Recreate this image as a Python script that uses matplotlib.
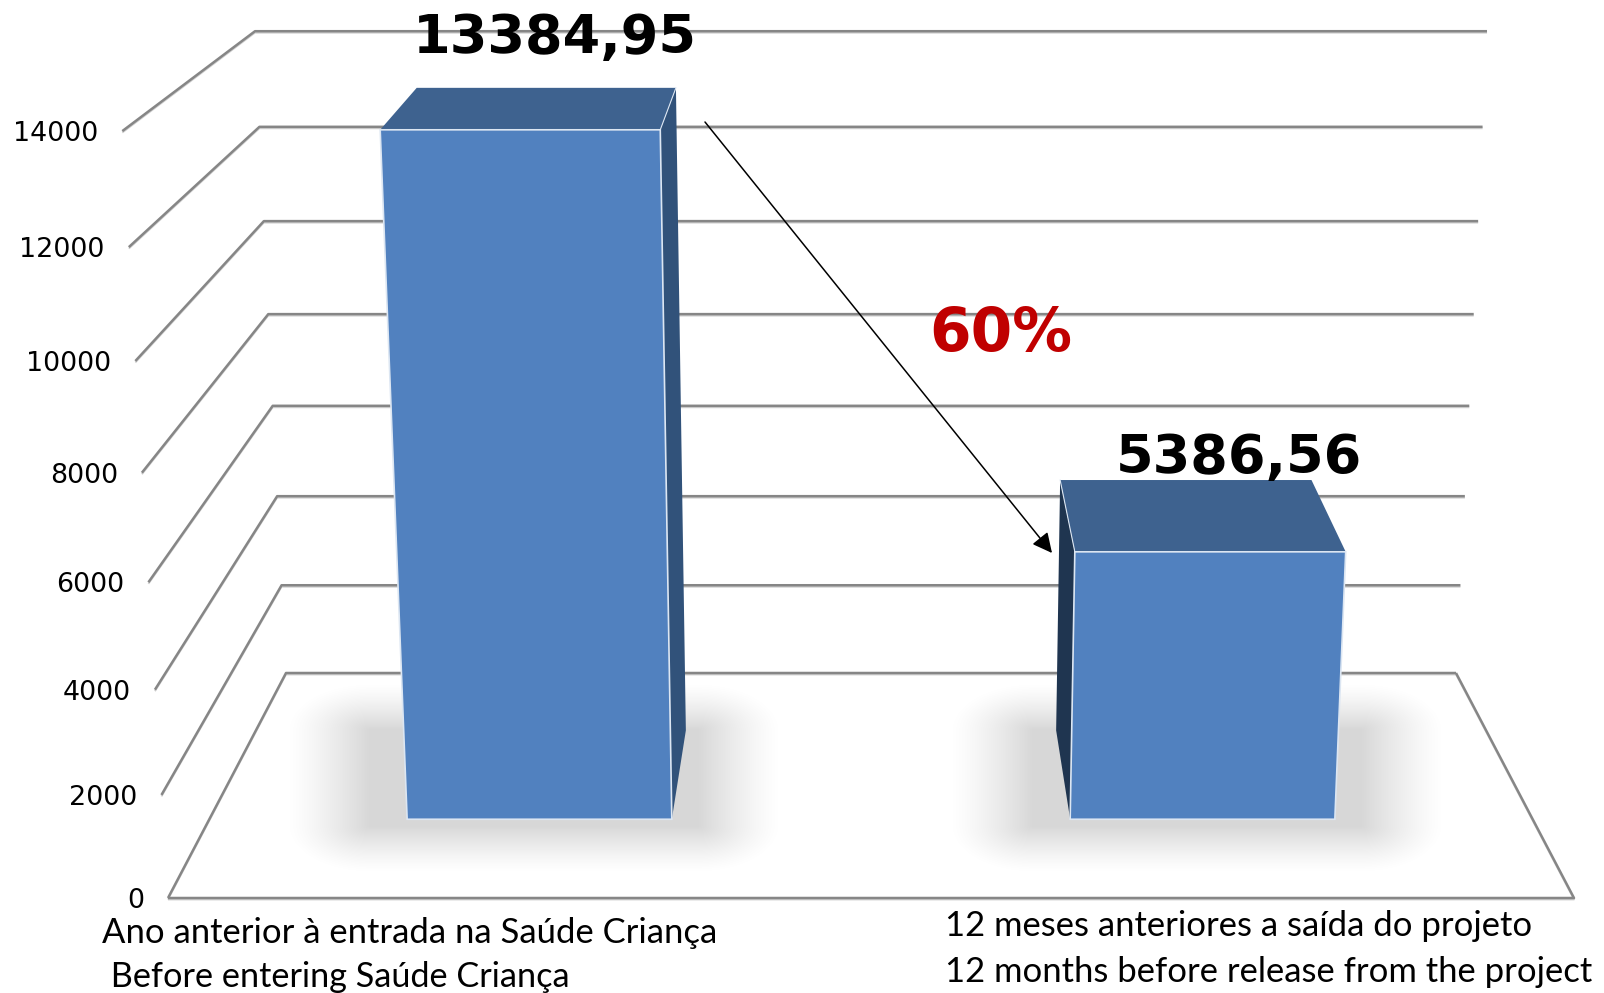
import numpy as np
import matplotlib
matplotlib.use('Agg')
import matplotlib.pyplot as plt
from matplotlib.patches import Polygon

# Data
tick_values = [0, 2000, 4000, 6000, 8000, 10000, 12000, 14000]
bar_values = [13384.95, 5386.56]
cat_labels_pt = ['Ano anterior à entrada na Saúde Criança', '12 meses anteriores a saída do projeto']
cat_labels_en = [' Before entering Saúde Criança', '12 months before release from the project']
drop_label = '60%'

# Layout of the 3D box, in output pixels
CENTER_X = 871
FLOOR_FRONT_Y = 898
FLOOR_DEPTH = 225
BAR_SPANS = [(-0.701, -0.301), (0.301, 0.701)]
BAR_FRONT = 0.35
BAR_BACK = 0.745

GRID = '#868686'
GRID_SHADOW = '#cfcfcf'
FRONT = '#5181BF'
TOP = '#3E628F'
SIDE_LEFT_BAR = '#31527A'
SIDE_RIGHT_BAR = '#1F3550'
EDGE = '#DCE6F2'


def project(x, value, depth):
    # x runs -1..1 across the box, depth runs 0 (front) to 1 (back wall)
    half_width = 703 - 118 * depth
    spread = 1 + (value / 14000) * (0.065 - 0.012 * depth)
    u = value / 2000
    height = (102 - 14.9 * depth) * u + (1.08 - 0.425 * depth) * u ** 2
    return CENTER_X + x * half_width * spread, FLOOR_FRONT_Y - FLOOR_DEPTH * depth - height


def grid_line(ax, points):
    xs, ys = zip(*points)
    ax.plot(xs, np.array(ys) + 1.5, color=GRID_SHADOW, lw=1.3, zorder=1, solid_capstyle='butt')
    ax.plot(xs, ys, color=GRID, lw=1.8, zorder=2, solid_capstyle='butt')


def soft_shadow(ax, x0, x1, y0, y1, fade_x, fade_y):
    xs = np.arange(x0, x1) + 0.5
    ys = np.arange(y0, y1) + 0.5
    dx = np.maximum(np.maximum(x0 + fade_x - xs, xs - (x1 - fade_x)), 0) / fade_x
    dy = np.maximum(np.maximum(y0 + fade_y - ys, ys - (y1 - fade_y)), 0) / fade_y
    r = np.clip(1 - np.hypot(*np.meshgrid(dx, dy)), 0, 1)
    rgba = np.zeros((len(ys), len(xs), 4))
    rgba[..., 3] = 0.16 * r ** 1.3
    ax.imshow(rgba, extent=(x0, x1, y1, y0), aspect='auto', zorder=3, interpolation='bilinear')


fig = plt.figure(figsize=(16.04, 9.93), dpi=100)
ax = fig.add_axes([0, 0, 1, 1])

# Walls and floor
for v in tick_values:
    front_x, front_y = project(-1, v, 0)
    back_l = project(-1, v, 1)
    back_r = project(1, v, 1)
    grid_line(ax, [(front_x, front_y), back_l, back_r])
    ax.text(front_x - 24, front_y + 3, str(v), ha='right', va='center', fontsize=19.4, color='black')
grid_line(ax, [project(-1, 0, 0), project(1, 0, 0), project(1, 0, 1)])

# Bars
for i, (value, span) in enumerate(zip(bar_values, BAR_SPANS)):
    xa, xb = span
    # floor shadow round the footprint of the bar
    left = project(xa, 0, BAR_FRONT)[0]
    right = project(xb, 0, BAR_FRONT)[0]
    soft_shadow(ax, int(left - 122), int(right + 112), 682, 874, 85, 48)

    front = [project(xa, value, BAR_FRONT), project(xb, value, BAR_FRONT),
             project(xb, 0, BAR_FRONT), project(xa, 0, BAR_FRONT)]
    top = [project(xa, value, BAR_FRONT), project(xa, value, BAR_BACK),
           project(xb, value, BAR_BACK), project(xb, value, BAR_FRONT)]
    if i == 0:
        side = [project(xb, value, BAR_FRONT), project(xb, value, BAR_BACK),
                project(xb, 0, BAR_BACK), project(xb, 0, BAR_FRONT)]
        side_color = SIDE_LEFT_BAR
    else:
        side = [project(xa, value, BAR_FRONT), project(xa, value, BAR_BACK),
                project(xa, 0, BAR_BACK), project(xa, 0, BAR_FRONT)]
        side_color = SIDE_RIGHT_BAR
    ax.add_patch(Polygon(side, closed=True, facecolor=side_color, edgecolor='none', zorder=4))
    ax.add_patch(Polygon(top, closed=True, facecolor=TOP, edgecolor='none', zorder=5))
    ax.plot(*zip(side[0], side[1]), color=EDGE, lw=0.8, zorder=6)
    ax.add_patch(Polygon(front, closed=True, facecolor=FRONT, edgecolor=EDGE, lw=1.2, zorder=6))

# Value labels
label_pos = [(555, 53), (1239, 473)]
for value, (x, y) in zip(bar_values, label_pos):
    ax.text(x, y, f'{value:.2f}'.replace('.', ','), ha='center', va='baseline',
            fontsize=39, fontweight='bold', color='black', zorder=8)

ax.text(1001, 351, drop_label, ha='center', va='baseline', fontsize=43,
        fontweight='bold', color='#C00000', zorder=8)

# Arrow from first bar to second
ax.annotate('', xy=(1052, 553), xytext=(705, 122), zorder=7,
            arrowprops=dict(arrowstyle='-|>,head_length=0.5,head_width=0.25', mutation_scale=24,
                            color='black', lw=1.1, shrinkA=0, shrinkB=0))

# Category labels
ax.text(102, 943, cat_labels_pt[0], fontsize=24.9, family='Lato', va='baseline', color='black')
ax.text(102, 987, cat_labels_en[0], fontsize=24.7, family='Lato', va='baseline', color='black')
ax.text(945, 936, cat_labels_pt[1], fontsize=24.9, family='Lato', va='baseline', color='black')
ax.text(945, 982, cat_labels_en[1], fontsize=24.9, family='Lato', va='baseline', color='black')

ax.set_xlim(0, 1604)
ax.set_ylim(993, 0)
ax.axis('off')

fig.savefig('out.png', dpi=100)
